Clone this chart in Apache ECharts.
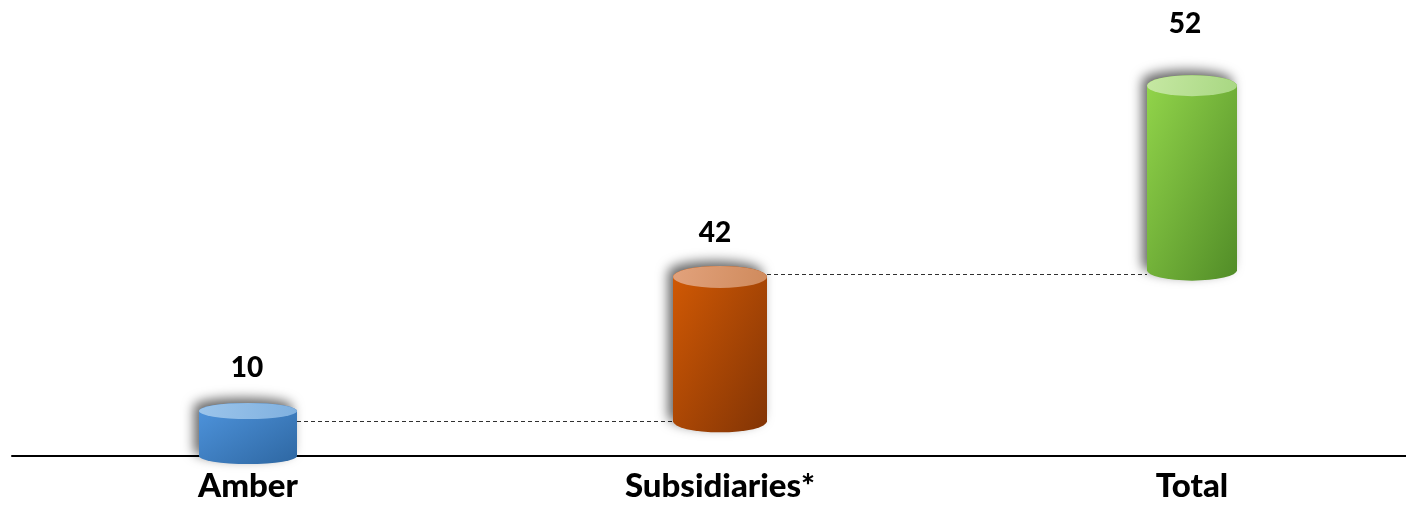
<!DOCTYPE html>
<html>
<head>
<meta charset="utf-8">
<script src="https://cdn.jsdelivr.net/npm/echarts@6/dist/echarts.min.js"></script>
<style>
  html, body { margin: 0; padding: 0; background: #ffffff; }
  #chart { width: 1406px; height: 505px; }
</style>
</head>
<body>
<div id="chart"></div>
<script>
// ---- data ----
const categories = ['Amber', 'Subsidiaries*', 'Total'];
const valueLabels = [10, 42, 52];
// cylinder start / end as drawn (axis units)
const cylinderBottom = [0, 7.7, 41.3];
const cylinderTop = [10, 39.8, 82.3];
// dashed connector levels (between neighbouring cylinders)
const connectorLevel = [7.8, 40.4];

// ---- styling ----
const cylWidths = [98, 94, 90];
const ellipseRy = [8, 11, 10.5];
const labelGap = [43.5, 44, 62];
const labelDx = [-1, -5, -7];
const palette = [
  { side: ['#4f95de', '#2e67a2'], top: ['#9cc5eb', '#7fb0df'] },
  { side: ['#d35a04', '#823405'], top: ['#e2a27c', '#cf8a5c'] },
  { side: ['#93d64b', '#518c27'], top: ['#c6e8a3', '#a8d782'] }
];

const cylData = categories.map((c, i) => [i, cylinderBottom[i], cylinderTop[i], valueLabels[i]]);
const connData = connectorLevel.map((v, i) => [i, v]);

const chart = echarts.init(document.getElementById('chart'), null, { renderer: 'canvas' });

// diagonal gradient whose iso-lines run from bottom-left to top-right corner
function sideGrad(c, L, T, w, h) {
  const k = 2 * w * h / (h * h + w * w);
  return new echarts.graphic.LinearGradient(L, T, L + h * k, T + w * k, [
    { offset: 0, color: c[0] },
    { offset: 1, color: c[1] }
  ], true);
}
function topGrad(c) {
  return new echarts.graphic.LinearGradient(0, 0, 1, 1, [
    { offset: 0, color: c[0] },
    { offset: 1, color: c[1] }
  ]);
}

chart.setOption({
  backgroundColor: '#ffffff',
  animation: false,
  grid: { left: 12, width: 1416, top: 6, bottom: 49, outerBoundsMode: 'none', containLabel: false },
  xAxis: {
    type: 'category',
    data: categories,
    axisLine: { show: true, lineStyle: { color: '#000000', width: 2 } },
    axisTick: { show: false },
    axisLabel: {
      color: '#000000',
      fontFamily: 'Lato',
      fontWeight: 900,
      fontSize: 33,
      margin: 14
    },
    splitLine: { show: false }
  },
  yAxis: {
    type: 'value',
    min: 0,
    max: 100,
    show: false
  },
  series: [
    {
      type: 'custom',
      z: 2,
      data: connData,
      renderItem: function (params, api) {
        const i = api.value(0);
        const lvl = api.value(1);
        const p1 = api.coord([i, lvl]);
        const p2 = api.coord([i + 1, lvl]);
        return {
          type: 'line',
          shape: {
            x1: p1[0] + cylWidths[i] / 2,
            y1: Math.round(p1[1]) + 0.5,
            x2: p2[0] - cylWidths[i + 1] / 2,
            y2: Math.round(p2[1]) + 0.5
          },
          style: { stroke: '#303030', lineWidth: 1, lineDash: [4, 3] }
        };
      }
    },
    {
      type: 'custom',
      z: 3,
      data: cylData,
      renderItem: function (params, api) {
        const i = api.value(0);
        const b = api.coord([i, api.value(1)]);
        const t = api.coord([i, api.value(2)]);
        const cx = b[0];
        const rx = cylWidths[i] / 2;
        const ry = ellipseRy[i];
        const L = cx - rx, R = cx + rx, by = b[1], ty = t[1];
        const body = 'M' + L + ',' + ty + ' L' + L + ',' + by +
          ' A' + rx + ',' + ry + ' 0 0 0 ' + R + ',' + by +
          ' L' + R + ',' + ty +
          ' A' + rx + ',' + ry + ' 0 0 0 ' + L + ',' + ty + ' Z';
        const topE = 'M' + L + ',' + ty +
          ' A' + rx + ',' + ry + ' 0 0 1 ' + R + ',' + ty +
          ' A' + rx + ',' + ry + ' 0 0 1 ' + L + ',' + ty + ' Z';
        const w = 2 * rx;
        const h = Math.max(1, by - ty + 2 * ry);
        return {
          type: 'group',
          children: [
            {
              type: 'path',
              shape: { pathData: body },
              style: {
                fill: sideGrad(palette[i].side, L, ty - ry, w, h),
                shadowColor: 'rgba(0,0,0,0.6)',
                shadowBlur: 12,
                shadowOffsetX: -5,
                shadowOffsetY: -5
              }
            },
            {
              type: 'path',
              shape: { pathData: topE },
              style: { fill: topGrad(palette[i].top) }
            },
            {
              type: 'text',
              style: {
                text: String(api.value(3)),
                x: cx + labelDx[i],
                y: ty - labelGap[i],
                align: 'center',
                verticalAlign: 'middle',
                fontFamily: 'Lato',
                fontWeight: 900,
                fontSize: 28,
                fill: '#000000'
              }
            }
          ]
        };
      }
    }
  ]
});
</script>
</body>
</html>
